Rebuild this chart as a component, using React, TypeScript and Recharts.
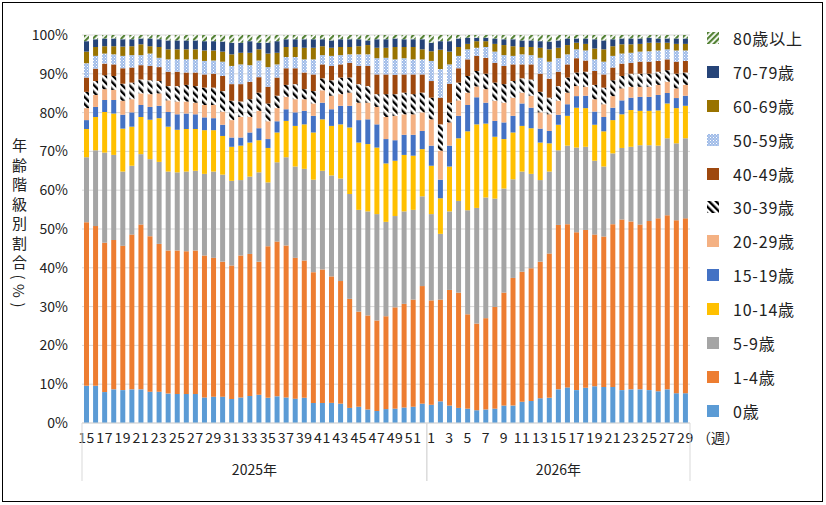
import React from 'react';
import { BarChart, Bar, XAxis, YAxis, CartesianGrid } from 'recharts';

// weeks on the x axis
const weeks2025 = [15, 16, 17, 18, 19, 20, 21, 22, 23, 24, 25, 26, 27, 28, 29, 30, 31, 32, 33, 34, 35, 36, 37, 38, 39, 40, 41, 42, 43, 44, 45, 46, 47, 48, 49, 50, 51, 52];
const weeks2026 = [1, 2, 3, 4, 5, 6, 7, 8, 9, 10, 11, 12, 13, 14, 15, 16, 17, 18, 19, 20, 21, 22, 23, 24, 25, 26, 27, 28, 29];
const yearLabels = ['2025年', '2026年'];
const yTicks = [0, 0.1, 0.2, 0.3, 0.4, 0.5, 0.6, 0.7, 0.8, 0.9, 1];

// share by age group (%), bottom to top
const age0 = [9.6, 9.6, 8.0, 8.7, 8.5, 8.7, 8.7, 8.1, 8.1, 7.6, 7.5, 7.5, 7.5, 6.6, 6.8, 6.8, 6.2, 6.6, 7.0, 7.3, 6.5, 6.9, 6.6, 6.3, 6.5, 5.2, 5.2, 5.2, 5.0, 3.9, 4.2, 3.5, 3.1, 3.6, 3.7, 4.0, 4.2, 5.0,
  4.7, 5.6, 4.5, 3.9, 3.7, 3.3, 3.5, 3.7, 4.5, 4.5, 5.5, 5.7, 6.4, 6.5, 8.7, 9.2, 8.5, 9.1, 9.5, 9.3, 9.3, 8.5, 8.7, 8.7, 8.5, 8.2, 8.7, 7.7, 7.7];
const age1to4 = [42.3, 41.3, 38.6, 38.6, 37.3, 40.0, 42.6, 40.2, 38.2, 37.0, 37.1, 36.9, 37.1, 36.7, 35.9, 34.9, 34.5, 36.7, 36.7, 34.4, 39.2, 40.0, 39.3, 36.4, 35.5, 33.8, 34.5, 32.7, 31.7, 28.2, 24.6, 24.3, 23.4, 24.0, 26.2, 26.8, 27.7, 30.4,
  27.0, 26.3, 29.9, 29.8, 24.4, 22.4, 23.6, 26.3, 29.2, 33.0, 33.6, 34.3, 35.3, 37.3, 42.5, 42.2, 40.8, 40.8, 39.2, 38.9, 42.1, 44.1, 43.4, 42.6, 43.7, 44.7, 45.0, 44.7, 45.2];
const age5to9 = [16.8, 19.6, 23.3, 22.0, 19.2, 17.8, 18.2, 19.9, 21.2, 20.4, 20.2, 20.6, 20.6, 21.1, 22.3, 22.5, 21.9, 19.5, 20.0, 23.1, 16.5, 20.5, 22.8, 23.6, 23.7, 23.9, 25.5, 26.1, 26.5, 27.1, 26.3, 26.9, 27.5, 24.4, 23.6, 23.9, 23.2, 23.2,
  22.3, 17.0, 20.3, 23.7, 26.9, 29.9, 31.2, 28.0, 26.9, 25.5, 25.9, 24.4, 21.1, 21.2, 19.3, 20.3, 21.9, 21.5, 19.1, 18.1, 18.3, 18.5, 19.3, 20.5, 19.6, 18.8, 19.9, 19.9, 20.7];
const age10to14 = [7.3, 8.6, 10.5, 10.7, 11.1, 10.1, 9.6, 10.2, 11.3, 11.6, 11.0, 11.0, 10.8, 11.3, 10.7, 10.0, 8.8, 8.9, 8.8, 8.3, 8.9, 7.7, 9.4, 10.5, 11.5, 12.2, 13.3, 12.8, 14.0, 17.2, 17.4, 17.4, 17.2, 15.1, 14.3, 14.6, 14.0, 12.2,
  12.5, 9.2, 11.6, 16.2, 20.4, 21.6, 19.1, 16.0, 12.8, 12.1, 11.8, 11.8, 9.7, 7.3, 6.6, 7.7, 10.3, 10.0, 9.3, 9.1, 8.6, 8.7, 9.5, 8.9, 8.9, 9.1, 9.0, 9.1, 8.4];
const age15to19 = [2.3, 2.6, 3.1, 3.5, 3.6, 3.7, 3.1, 3.3, 3.2, 3.8, 4.0, 4.0, 3.8, 3.3, 3.1, 2.9, 2.4, 2.1, 2.6, 3.1, 2.3, 2.9, 3.0, 3.5, 3.5, 4.3, 4.3, 4.3, 4.8, 5.6, 5.8, 6.4, 6.0, 6.3, 5.3, 5.2, 5.4, 4.7,
  5.2, 4.8, 5.4, 5.8, 6.8, 7.0, 5.4, 4.1, 4.3, 4.3, 5.8, 5.3, 3.6, 3.2, 2.6, 3.0, 3.0, 3.2, 3.4, 3.7, 3.2, 3.6, 3.2, 3.6, 3.6, 4.0, 2.7, 2.6, 2.6];
const age20to29 = [3.1, 3.1, 2.8, 2.6, 3.6, 3.4, 3.0, 3.3, 3.2, 3.0, 3.3, 3.1, 3.0, 3.2, 3.4, 3.4, 4.5, 5.3, 4.0, 4.5, 4.6, 3.4, 3.2, 3.4, 3.0, 3.2, 3.2, 3.5, 3.0, 3.4, 4.5, 4.3, 4.5, 5.7, 6.3, 5.3, 5.3, 4.8,
  6.8, 7.5, 6.0, 4.0, 3.2, 2.8, 3.5, 5.2, 5.1, 4.7, 2.8, 3.1, 4.2, 4.3, 3.6, 3.0, 2.6, 2.3, 3.2, 3.3, 3.0, 3.1, 2.8, 2.6, 2.6, 2.6, 2.9, 2.5, 2.8];
const age30to39 = [4.2, 3.6, 3.6, 3.6, 4.4, 4.3, 3.6, 3.6, 3.2, 3.7, 4.0, 4.3, 4.3, 4.5, 4.5, 5.3, 5.0, 4.0, 4.6, 4.7, 4.6, 3.2, 3.1, 3.9, 2.6, 3.2, 3.1, 4.0, 4.3, 3.9, 4.8, 4.3, 3.3, 5.9, 5.6, 5.6, 5.2, 5.1,
  5.6, 6.8, 5.1, 4.6, 4.3, 4.0, 4.0, 4.7, 4.8, 4.3, 3.7, 4.2, 5.3, 4.3, 3.8, 3.9, 3.5, 3.9, 3.7, 4.3, 4.1, 3.2, 3.4, 3.4, 3.4, 3.4, 3.0, 3.8, 3.2];
const age40to49 = [3.7, 3.2, 3.0, 3.0, 4.0, 3.9, 3.7, 3.7, 3.6, 3.7, 3.7, 3.2, 3.5, 3.4, 3.6, 3.9, 4.3, 4.5, 4.5, 4.0, 4.3, 4.7, 4.3, 4.1, 4.3, 4.3, 3.6, 3.7, 3.4, 3.8, 4.7, 5.2, 5.1, 5.1, 5.0, 4.7, 5.1, 4.7,
  4.3, 6.9, 4.9, 3.7, 4.3, 3.9, 4.1, 5.1, 4.7, 4.3, 3.6, 3.9, 4.7, 4.9, 3.7, 3.4, 3.7, 2.9, 3.6, 3.4, 3.3, 3.2, 2.8, 3.1, 3.1, 2.8, 2.8, 3.1, 3.0];
const age50to59 = [3.7, 3.3, 2.6, 2.6, 3.2, 3.2, 2.6, 3.2, 2.4, 3.2, 3.2, 3.4, 3.4, 3.5, 3.4, 3.7, 4.7, 5.1, 4.3, 4.3, 5.1, 3.4, 2.9, 2.9, 3.4, 3.9, 2.4, 2.6, 2.4, 2.2, 3.0, 3.0, 4.2, 4.3, 4.0, 4.2, 3.9, 3.9,
  5.2, 7.4, 5.0, 3.2, 2.6, 2.1, 2.8, 2.9, 2.8, 2.2, 2.6, 2.4, 4.1, 4.4, 3.5, 2.6, 2.3, 2.6, 3.0, 3.3, 3.0, 2.6, 2.6, 2.6, 2.7, 2.7, 2.6, 2.9, 2.7];
const age60to69 = [3.0, 2.3, 1.9, 2.1, 2.4, 2.3, 2.8, 1.9, 2.8, 2.6, 2.6, 2.6, 2.6, 2.7, 2.6, 2.6, 3.0, 3.0, 3.2, 2.9, 3.5, 3.0, 2.6, 2.6, 3.0, 3.0, 2.3, 2.1, 2.1, 1.9, 2.1, 2.4, 2.7, 2.6, 3.2, 2.9, 3.2, 2.6,
  2.5, 5.0, 3.3, 2.3, 1.4, 1.7, 1.5, 2.0, 2.6, 2.5, 1.9, 2.1, 2.6, 3.2, 2.7, 2.4, 1.7, 1.7, 2.8, 3.2, 2.5, 2.4, 2.2, 2.0, 2.2, 2.0, 1.7, 1.7, 1.7];
const age70to79 = [2.7, 2.0, 2.0, 2.0, 1.9, 1.8, 1.5, 2.0, 2.0, 2.3, 2.3, 2.3, 2.3, 2.4, 2.4, 2.6, 3.0, 2.6, 3.0, 1.7, 2.8, 3.0, 2.0, 2.0, 2.2, 2.2, 1.8, 1.9, 2.0, 2.0, 1.8, 1.2, 2.2, 2.2, 2.2, 2.0, 2.0, 2.6,
  2.2, 2.2, 2.7, 2.2, 1.6, 0.9, 0.9, 1.4, 1.5, 1.8, 1.7, 1.7, 1.7, 2.0, 1.9, 1.7, 1.1, 1.4, 2.4, 2.3, 1.8, 1.5, 1.5, 1.4, 1.3, 1.1, 1.1, 1.4, 1.4];
const age80plus = [1.6, 1.1, 0.9, 0.9, 1.1, 1.1, 0.9, 0.9, 1.1, 1.4, 1.4, 1.4, 1.4, 1.6, 1.6, 1.7, 2.0, 2.0, 1.6, 2.0, 2.0, 1.6, 1.1, 1.1, 1.1, 1.1, 1.1, 1.4, 1.1, 1.1, 1.1, 1.4, 1.1, 1.1, 0.9, 1.1, 1.1, 1.1,
  2.0, 1.6, 1.6, 0.9, 0.7, 0.7, 0.7, 0.9, 1.1, 1.1, 1.4, 1.4, 1.6, 1.7, 1.4, 0.9, 0.9, 0.9, 1.1, 1.4, 1.1, 0.9, 0.9, 0.9, 0.7, 0.9, 0.9, 0.9, 0.9];

const series = [
  { key: 'a0', name: '0歳', values: age0, fill: '#5B9BD5' },
  { key: 'a1', name: '1-4歳', values: age1to4, fill: '#ED7D31' },
  { key: 'a5', name: '5-9歳', values: age5to9, fill: '#A5A5A5' },
  { key: 'a10', name: '10-14歳', values: age10to14, fill: '#FFC000' },
  { key: 'a15', name: '15-19歳', values: age15to19, fill: '#4472C4' },
  { key: 'a20', name: '20-29歳', values: age20to29, fill: '#F4B183' },
  { key: 'a30', name: '30-39歳', values: age30to39, fill: 'url(#hatch30)' },
  { key: 'a40', name: '40-49歳', values: age40to49, fill: '#9E480E' },
  { key: 'a50', name: '50-59歳', values: age50to59, fill: 'url(#dots50)' },
  { key: 'a60', name: '60-69歳', values: age60to69, fill: '#997300' },
  { key: 'a70', name: '70-79歳', values: age70to79, fill: '#264478' },
  { key: 'a80', name: '80歳以上', values: age80plus, fill: 'url(#hatch80)' },
];

const weeks = [...weeks2025, ...weeks2026];
const yearSizes = [weeks2025.length, weeks2026.length];

const data = weeks.map((w, i) => {
  const row: Record<string, number | string> = { id: `${i}`, week: w };
  series.forEach((s) => { row[s.key] = s.values[i]; });
  return row;
});

const FONT = "'Noto Sans CJK JP', 'Noto Sans', sans-serif";
const W = 826;
const H = 505;
const M = { top: 35, right: 136, bottom: 0, left: 22 };
const Y_AXIS_W = 60;
const X_AXIS_H = 82;
const PLOT_W = W - M.left - Y_AXIS_W - M.right;
const PLOT_BOTTOM = H - M.bottom - X_AXIS_H;
const BW = PLOT_W / weeks.length;

function WeekTick(props: any) {
  const { x, index } = props;
  const w = weeks[index];
  const line = (lx: number, k: string) => (
    <line key={k} x1={lx} x2={lx} y1={PLOT_BOTTOM} y2={PLOT_BOTTOM + 58} stroke="#D9D9D9" strokeWidth={1} />
  );
  const items: React.ReactNode[] = [];
  if (w % 2 === 1) {
    items.push(
      <text key="w" x={x} y={PLOT_BOTTOM + 20} textAnchor="middle" fontSize={14} letterSpacing={0.6} fill="#222" fontFamily={FONT}>
        {w}
      </text>
    );
  }
  let start = 0;
  yearSizes.forEach((n, g) => {
    if (index === start) items.push(line(x - BW / 2, `s${g}`));
    if (index === start + n - 1) items.push(line(x + BW / 2, `e${g}`));
    const mid = (n - 1) / 2;
    if (index === start + Math.floor(mid)) {
      items.push(
        <text key={`y${g}`} x={x + (mid - Math.floor(mid)) * BW} y={PLOT_BOTTOM + 52} textAnchor="middle" fontSize={14} fill="#222" fontFamily={FONT}>
          {yearLabels[g]}
        </text>
      );
    }
    start += n;
  });
  if (index === weeks.length - 1) {
    items.push(
      <text key="unit" x={x + BW / 2 + 28} y={PLOT_BOTTOM + 20} textAnchor="middle" fontSize={14} fill="#222" fontFamily={FONT}>
        （週）
      </text>
    );
  }
  return <g>{items}</g>;
}

function Swatch({ fill }: { fill: string }) {
  return (
    <svg width={12} height={12} style={{ display: 'block' }}>
      <rect width={12} height={12} fill={fill} />
    </svg>
  );
}

export default function App() {
  return (
    <div style={{ position: 'fixed', left: 0, top: 0, width: W, height: H, background: '#fff', fontFamily: FONT }}>
      <svg width={0} height={0} style={{ position: 'absolute' }}>
        <defs>
          <pattern id="hatch80" width={4} height={4} patternUnits="userSpaceOnUse" patternTransform="rotate(45)">
            <rect width={4} height={4} fill="#fff" />
            <rect width={2.2} height={4} fill="#548235" />
          </pattern>
          <pattern id="hatch30" width={5} height={5} patternUnits="userSpaceOnUse" patternTransform="rotate(-45)">
            <rect width={5} height={5} fill="#fff" />
            <rect width={2.4} height={5} fill="#000" />
          </pattern>
          <pattern id="dots50" width={3} height={3} patternUnits="userSpaceOnUse">
            <rect width={3} height={3} fill="#9FBBE8" />
            <rect x={0} y={0} width={1} height={1} fill="#fff" />
            <rect x={1.5} y={1.5} width={1} height={1} fill="#E8EFFA" />
          </pattern>
        </defs>
      </svg>
      <div style={{ position: 'absolute', left: 2, top: 2, width: 821, height: 500, border: '1px solid #000', boxSizing: 'border-box' }} />
      <div style={{ position: 'absolute', left: 0, top: 0 }}>
        <BarChart width={W} height={H} data={data} margin={M} stackOffset="expand" barCategoryGap="22%">
          <CartesianGrid vertical={false} stroke="#D9D9D9" />
          <XAxis
            dataKey="id"
            interval={0}
            height={X_AXIS_H}
            tickLine={false}
            tickSize={0}
            tickMargin={0}
            axisLine={{ stroke: '#D9D9D9' }}
            tick={<WeekTick />}
          />
          <YAxis
            width={Y_AXIS_W}
            domain={[0, 1]}
            ticks={yTicks}
            tickFormatter={(v: number) => `${Math.round(v * 100)}%`}
            tickLine={false}
            tickSize={0}
            tickMargin={14}
            axisLine={false}
            tick={{ fontSize: 14, fill: '#222', fontFamily: FONT }}
          />
          {series.map((s) => (
            <Bar key={s.key} dataKey={s.key} name={s.name} stackId="age" fill={s.fill} isAnimationActive={false} />
          ))}
        </BarChart>
      </div>
      <div
        style={{
          position: 'absolute',
          left: 11,
          top: 138,
          writingMode: 'vertical-rl',
          fontSize: 15,
          letterSpacing: '4.5px',
          lineHeight: '16px',
          color: '#222',
        }}
      >
        年齢階級別割合(%)
      </div>
      <div style={{ position: 'absolute', left: 707, top: 21 }}>
        {[...series].reverse().map((s) => (
          <div key={s.key} style={{ height: 33.9, display: 'flex', alignItems: 'center' }}>
            <Swatch fill={s.fill} />
            <span style={{ marginLeft: 14, fontSize: 16, color: '#222', letterSpacing: '0.8px' }}>{s.name}</span>
          </div>
        ))}
      </div>
    </div>
  );
}
